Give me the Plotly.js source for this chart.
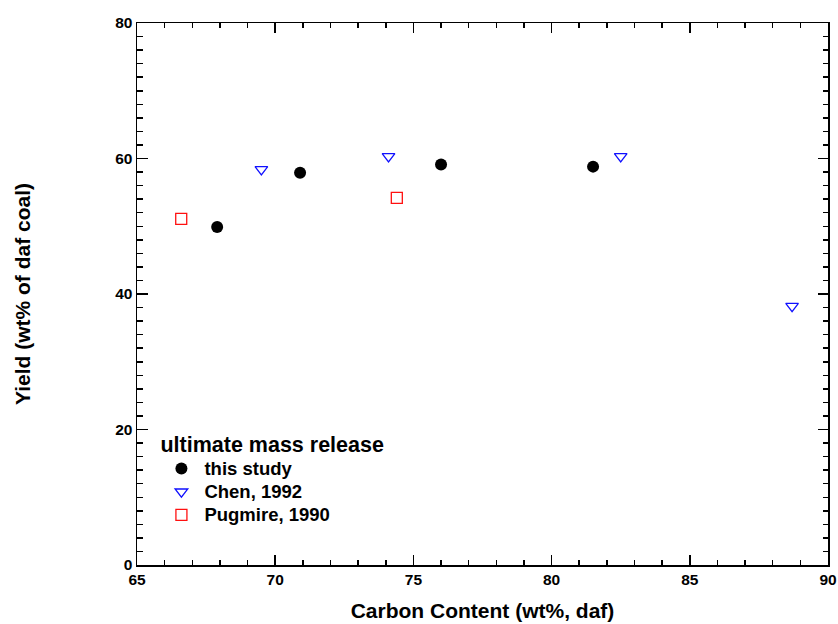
<!DOCTYPE html>
<html>
<head>
<meta charset="utf-8">
<script src="https://cdn.plot.ly/plotly-3.0.1.min.js"></script>
<style>
  html, body { margin: 0; padding: 0; background: #fff; }
  #chart { width: 838px; height: 624px; }
</style>
</head>
<body>
<div id="chart"></div>
<script>
// Ultimate mass release versus coal carbon content
const thisStudyCarbon = [67.9, 70.9, 76.0, 81.5];
const thisStudyYield  = [49.9, 57.9, 59.1, 58.8];

const chenCarbon = [69.5, 74.1, 82.5, 88.7];
const chenYield  = [58.4, 60.3, 60.3, 38.2];

const pugmireCarbon = [66.6, 74.4];
const pugmireYield  = [51.1, 54.2];

const seriesNames = ['this study', 'Chen, 1992', 'Pugmire, 1990'];
const legendTitle = 'ultimate mass release';
const xTitle = 'Carbon Content (wt%, daf)';
const yTitle = 'Yield (wt% of daf coal)';

const FAMILY = '"Liberation Sans", Arial, Helvetica, sans-serif';
const INK = '#000';

function legendName(s) {
  return '<span style="font-size:18.5px">' + s + '</span>';
}

const traces = [
  {
    x: thisStudyCarbon, y: thisStudyYield, name: legendName(seriesNames[0]),
    type: 'scatter', mode: 'markers',
    marker: { symbol: 'circle', size: 12, color: '#000' }
  },
  {
    x: chenCarbon, y: chenYield, name: legendName(seriesNames[1]),
    type: 'scatter', mode: 'markers',
    marker: { symbol: 'triangle-down-open', size: 11, color: '#1010ff',
              line: { color: '#1010ff', width: 1.3 } }
  },
  {
    x: pugmireCarbon, y: pugmireYield, name: legendName(seriesNames[2]),
    type: 'scatter', mode: 'markers',
    marker: { symbol: 'square-open', size: 11, color: '#ff1010',
              line: { color: '#ff1010', width: 1.3 } }
  }
];

const tickFont = { family: FAMILY, size: 15.5, weight: 'bold', color: INK };
const titleFont = { family: FAMILY, size: 21, weight: 'bold', color: INK };

const layout = {
  width: 838, height: 624,
  margin: { l: 137, r: 10, t: 23, b: 59 },
  paper_bgcolor: '#fff', plot_bgcolor: '#fff',
  font: { family: FAMILY, color: INK },
  showlegend: true,
  legend: {
    x: 0.031, y: 0.26, xanchor: 'left', yanchor: 'top',
    itemwidth: 36,
    bgcolor: 'rgba(0,0,0,0)', borderwidth: 0,
    font: { family: FAMILY, size: 15.5, weight: 'bold', color: INK },
    title: { text: legendTitle, side: 'top',
             font: { family: FAMILY, size: 21.5, weight: 'bold', color: INK } }
  },
  xaxis: {
    range: [65, 90], tick0: 65, dtick: 5,
    ticks: 'inside', ticklen: 10, tickwidth: 1.5, tickcolor: INK,
    minor: { dtick: 1, ticks: 'inside', ticklen: 5, tickwidth: 1.5, tickcolor: INK },
    showline: true, linewidth: 1.5, linecolor: INK, mirror: 'allticks',
    showgrid: false, zeroline: false,
    tickfont: tickFont,
    title: { text: xTitle, font: titleFont, standoff: 16 }
  },
  yaxis: {
    range: [0, 80], tick0: 0, dtick: 20,
    ticks: 'inside', ticklen: 10.5, tickwidth: 1.5, tickcolor: INK,
    minor: { dtick: 2, ticks: 'inside', ticklen: 5.5, tickwidth: 1.5, tickcolor: INK },
    showline: true, linewidth: 1.5, linecolor: INK, mirror: 'allticks',
    showgrid: false, zeroline: false,
    tickfont: tickFont,
    title: { text: yTitle, font: titleFont, standoff: 79 }
  },
  // intermediate ticks at every 10 units
  yaxis2: {
    overlaying: 'y', anchor: 'x', side: 'left',
    range: [0, 80], tick0: 10, dtick: 20,
    ticks: 'inside', ticklen: 7.5, tickwidth: 1.5, tickcolor: INK,
    showticklabels: false, showline: false, showgrid: false, zeroline: false,
    mirror: 'ticks'
  }
};

Plotly.newPlot('chart', traces, layout, { staticPlot: true, displayModeBar: false });
</script>
</body>
</html>
